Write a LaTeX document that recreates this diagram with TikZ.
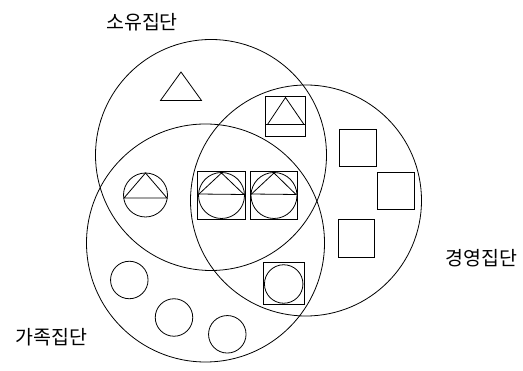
\documentclass[tikz,border=0pt]{standalone}
\usepackage{fontspec}
\newfontfamily\kr{Noto Sans CJK KR}
\begin{document}
\begin{tikzpicture}[x=1pt,y=-1pt,line width=0.8pt,
  lbl/.style={font=\kr\fontsize{19.5pt}{19.5pt}\selectfont,inner sep=0pt},
  bigc/.style={draw,circle,inner sep=0pt},
  smc/.style={draw,circle,inner sep=0pt},
  sq/.style={draw,rectangle,inner sep=0pt}]
\useasboundingbox (0,0) rectangle (523,371);
% big circles
\node[bigc,minimum size=231pt] (own) at (211,155) {};
\node[bigc,minimum size=231pt] (mgmt) at (306,200.5) {};
\node[bigc,minimum size=238pt] (fam) at (205.5,243) {};
% labels
\node[lbl] (lown) at (142,22) {소유집단};
\node[lbl] (lmgmt) at (481.5,258) {경영집단};
\node[lbl] (lfam) at (51.5,337) {가족집단};
% triangle only
\coordinate (t1a) at (181,72);
\coordinate (t1b) at (160.5,100.5);
\coordinate (t1c) at (201.5,100.5);
\draw (t1a) -- (t1b) -- (t1c) -- cycle;
% square with triangle
\node[sq,minimum width=40pt,minimum height=40pt] (sqt) at (285.7,116.8) {};
\coordinate (s1l) at (265.7,124.5);
\coordinate (s1r) at (305.7,124.5);
\coordinate (s1a) at (285.5,97.5);
\draw (s1l) -- (s1r);
\draw (267.5,124.5) -- (s1a) -- (304,124.5);
% right squares
\node[sq,minimum width=37pt,minimum height=37.5pt] (sqa) at (357.5,148) {};
\node[sq,minimum width=37pt,minimum height=37.5pt] (sqb) at (396,191) {};
\node[sq,minimum width=36pt,minimum height=38pt] (sqc) at (356.3,238.3) {};
% circle with triangle
\node[smc,minimum size=44pt] (ct) at (145.5,195) {};
\draw (124,198) -- (145.5,173) -- (167,198) -- cycle;
% square+circle+triangle 1
\node[sq,minimum width=47.5pt,minimum height=48pt] (sct1) at (221.3,195.2) {};
\node[smc,minimum size=46pt] (sct1c) at (221.5,195.5) {};
\draw (199,194) -- (221.5,173) -- (244,194.5);
\draw (198.5,194) -- (244.5,194.5);
% square+circle+triangle 2
\node[sq,minimum width=47.5pt,minimum height=48pt] (sct2) at (273.8,195.2) {};
\node[smc,minimum size=46pt] (sct2c) at (274,195.5) {};
\draw (251.5,194) -- (274,173) -- (296,194.5);
\draw (251,194) -- (296.5,194.5);
% square + circle bottom
\node[sq,minimum width=40.5pt,minimum height=41.5pt] (sc) at (283.7,283.2) {};
\node[smc,minimum size=38.5pt] (scc) at (283.7,284) {};
% bottom-left circles
\node[smc,minimum size=37.5pt] (c1) at (129.3,280) {};
\node[smc,minimum size=37.5pt] (c2) at (174,317.5) {};
\node[smc,minimum size=37.5pt] (c3) at (227.3,334.3) {};
\end{tikzpicture}
\end{document}
